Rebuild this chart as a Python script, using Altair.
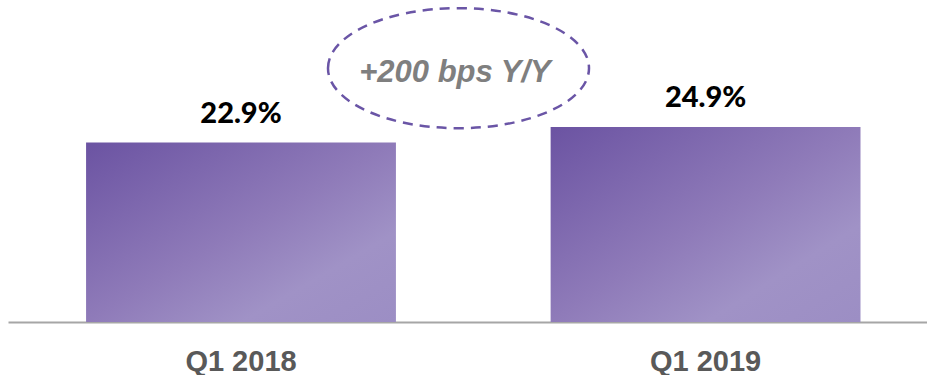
import altair as alt
import pandas as pd

categories = ["Q1 2018", "Q1 2019"]
values = [22.9, 24.9]
value_labels = ["22.9%", "24.9%"]

annotation_text = ["+200 bps Y/Y"]
annotation_y = [32.4]

df = pd.DataFrame({"cat": categories, "val": values, "lab": value_labels})
ann = pd.DataFrame({"txt": annotation_text, "y": annotation_y})

W, H = 919, 322
YMAX = 41.1

xenc = alt.X("cat:N", sort=categories, title=None,
             scale=alt.Scale(paddingInner=0.333, paddingOuter=0.1556, align=0.54),
             axis=alt.Axis(labelAngle=0, ticks=False, tickSize=0, labelPadding=25,
                           labelFont="Liberation Sans", labelFontSize=29,
                           labelFontWeight="bold", labelColor="#595959",
                           domainColor="#a6a6a6", domainWidth=2,
                           labelBaseline="top"))
yscale = alt.Scale(domain=[0, YMAX], nice=False, zero=True)
yenc = alt.Y("val:Q", scale=yscale, axis=None)

grad = alt.Gradient(
    gradient="linear", x1=0, y1=0, x2=1, y2=1,
    stops=[alt.GradientStop(color="#6b53a2", offset=0),
           alt.GradientStop(color="#8f7bb9", offset=0.5),
           alt.GradientStop(color="#a092c6", offset=0.75),
           alt.GradientStop(color="#9c8ec4", offset=1)])

bars = alt.Chart(df).mark_bar(color=grad).encode(x=xenc, y=yenc)

labels = alt.Chart(df).mark_text(
    font="Lato", fontSize=29, fontWeight=900, color="#000000",
    baseline="alphabetic", dy=-20
).encode(x=xenc, y=yenc, text="lab:N")

ellipse_path = ("M -1 0 C -1 -0.254 -0.552 -0.46 0 -0.46 "
                "C 0.552 -0.46 1 -0.254 1 0 "
                "C 1 0.254 0.552 0.46 0 0.46 "
                "C -0.552 0.46 -1 0.254 -1 0 Z")

ell = alt.Chart(ann).mark_point(
    shape=ellipse_path, size=261 * 261, filled=False, fill=None,
    stroke="#6a55a6", strokeWidth=2.5, strokeDash=[10, 7], opacity=1
).encode(x=alt.value(450.5), y=alt.Y("y:Q", scale=yscale, axis=None))

ann_text = alt.Chart(ann).mark_text(
    font="Liberation Sans", fontSize=31, fontWeight="bold", fontStyle="italic",
    color="#7f7f7f", baseline="alphabetic", dy=13.5
).encode(x=alt.value(447), y=alt.Y("y:Q", scale=yscale, axis=None), text="txt:N")

chart = alt.layer(bars, labels, ell, ann_text).properties(
    width=W, height=H,
    autosize=alt.AutoSizeParams(type="none"),
    padding={"left": 8, "top": 0, "right": 0, "bottom": 53},
).configure(background="white").configure_view(stroke=None)

chart.save("out.html", embed_options={"renderer": "svg", "actions": False})
